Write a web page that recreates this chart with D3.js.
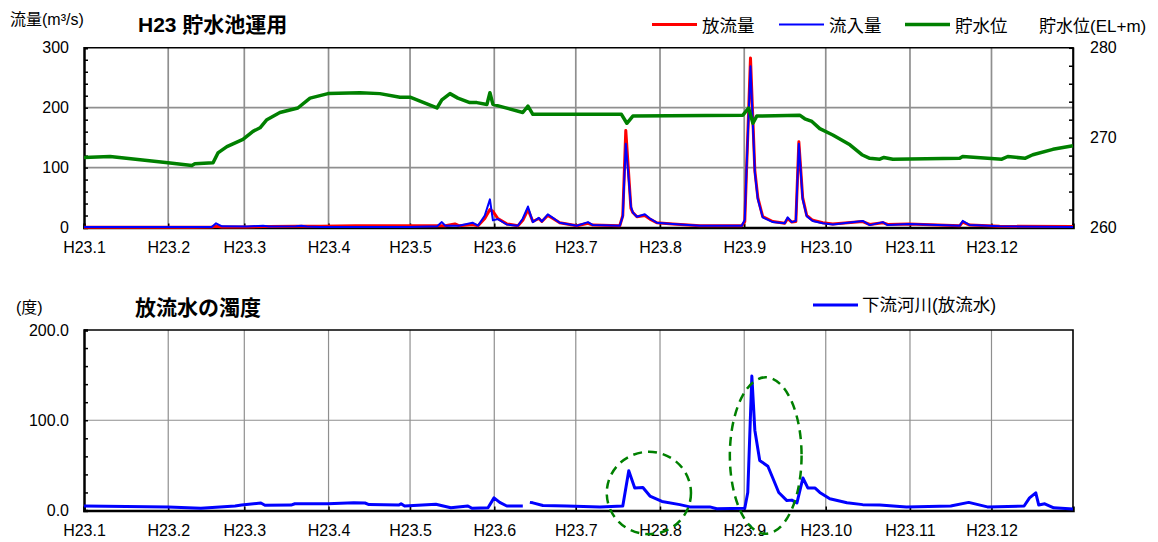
<!DOCTYPE html>
<html>
<head>
<meta charset="utf-8">
<script src="https://cdn.jsdelivr.net/npm/d3@7"></script>
<style>
  body { margin: 0; background: #fff; }
  text { font-family: "Liberation Sans", "Noto Sans CJK JP", sans-serif; fill: #000; }
</style>
</head>
<body>
<div id="chart"></div>
<script>
// month tick labels
const monthLabels = ["H23.1", "H23.2", "H23.3", "H23.4", "H23.5", "H23.6",
                     "H23.7", "H23.8", "H23.9", "H23.10", "H23.11", "H23.12"];

// flow (m3/s), day = days since 1 Jan 2011
const flowDays = [0, 20, 40, 47, 48.6, 50.8, 60, 65.9, 68, 78, 80, 82, 86.8, 100, 120, 130, 131.7, 133, 136.5, 138,
  143, 145, 147.5, 149.4, 150.5, 152.3, 155.6, 159.7, 161.5, 163.4, 165.2, 167.4, 168.5, 170.7, 172.6, 175.1,
  181.4, 185.5, 187.3, 197.2, 198.3, 199.4, 201.3, 202, 203.5, 206.4, 208.3, 210.8, 216.7, 226.7, 242.1, 243.2,
  243.8, 245.3, 246.9, 248, 249.8, 253.5, 257.9, 259, 260.5, 262, 263.1, 264.5, 266, 268.2, 271.9, 275.6,
  286.6, 289.2, 294, 295.8, 303.6, 322.3, 323.4, 326, 337, 364];
const outflow = [0.5, 0.5, 0.5, 1, 2, 1, 1, 1.5, 1.5, 2, 2, 2, 2, 3, 3, 3, 3, 3, 6, 3,
  5, 3, 15, 30, 27, 15, 6, 3, 12, 30, 10, 15, 10, 20, 15, 8,
  3, 7, 4, 3, 20, 162, 32, 25, 18, 20, 14, 8, 6, 3, 3, 10,
  90, 283, 95, 50, 18, 10, 7, 15, 9, 10, 143, 50, 20, 12, 8, 6,
  10, 5, 8, 5, 6, 3, 9, 4, 2, 1.5];
const inflow = [1, 1, 1, 1, 7, 2, 1.5, 3, 1.5, 2, 3, 1.5, 1, 1, 1, 2, 9, 3, 3, 3,
  8, 3, 20, 47, 12, 14, 5, 3, 15, 35, 9, 16, 10, 22, 16, 8,
  3, 9, 4, 3, 19, 140, 35, 25, 18, 22, 15, 8, 6, 3, 3, 13,
  92, 269, 92, 47, 17, 9, 7, 17, 9, 11, 140, 47, 19, 11, 7, 5,
  11, 4, 9, 4, 6, 3, 11, 4, 2, 1];

// reservoir level (EL+m)
const levelDays = [0, 9.6, 30.9, 39.7, 40.8, 47.5, 49.3, 52.6, 58.5, 62.2, 64.8, 67.3, 72.1, 78.7, 83.2, 89.8,
  101.6, 108.9, 116.3, 120, 129.9, 131.7, 134.7, 137.6, 142, 144.6, 148.3, 149.4, 150.5, 154.2, 161.5, 163.4,
  165.2, 197.8, 199.8, 202, 242.5, 244.6, 246.2, 247.6, 263.4, 265.3, 267.9, 270.8, 275.6, 281.9, 286.3, 289.2,
  292.9, 294.4, 297.7, 322.3, 323.4, 337.8, 340, 346.3, 349.2, 356.6, 364];
const levelValues = [267.8, 267.9, 267.2, 266.9, 267.1, 267.2, 268.3, 269.0, 269.8, 270.7, 271.1, 272.0, 272.8, 273.3, 274.4, 274.9,
  275.0, 274.9, 274.5, 274.5, 273.3, 274.2, 274.9, 274.4, 273.9, 273.9, 273.7, 275.0, 273.7, 273.4, 272.8, 273.5,
  272.6, 272.6, 271.6, 272.4, 272.5, 273.3, 271.6, 272.4, 272.5, 272.1, 271.8, 271.0, 270.3, 269.2, 268.1, 267.7,
  267.6, 267.8, 267.6, 267.7, 267.9, 267.6, 267.9, 267.7, 268.1, 268.7, 269.1];

// turbidity of released water (degree), null = missing
const turbDays = [0, 31, 43, 55.6, 58, 65.1, 66.6, 76.2, 77.6, 89.8, 99.3, 103.4, 104.9, 115.9, 116.7, 118,
  129.5, 135, 141.3, 142.8, 148.7, 150.9, 153, 155.6, 161.5, 162.5, 164.1, 165.2, 168.9, 177.7, 189.9, 198.3,
  200.5, 202.7, 205.7, 208.3, 212.7, 219.3, 223, 230.3, 232.9, 243.2, 244.3, 245.8, 246.9, 248.7, 251.7, 253.5,
  255.7, 258.7, 260.5, 262.4, 264.6, 266.4, 269, 270.8, 274.5, 280.8, 286.6, 292.9, 302.7, 319, 325.6, 332.5,
  346, 348, 350.3, 351.4, 353.6, 356.9, 364];
const turbValues = [5, 4, 2.5, 5, 6, 8.3, 5.8, 6, 7.5, 7.5, 8.7, 8.3, 6.6, 6, 7.5, 5,
  7, 3, 5, 2.5, 3, 14, 9, 5, 5, null, 9, 8.5, 5.5, 5, 4, 5,
  44, 25, 25.5, 16, 10, 6.5, 4, 4, 2, 2.5, 20, 149, 89, 55.5, 49, 36,
  20, 11, 11.5, 8.5, 36, 25, 25, 20, 13, 8.5, 6.5, 6, 4, 5, 9, 4,
  5, 14, 19.6, 6, 7.4, 3, 1.6];

// dashed ellipse marks (centre day / value, radius in days / degrees)
const marks = [
  { day: 207.9, value: 19.4, rDays: 15.5, rValue: 45.6 },
  { day: 250.9, value: 60.9, rDays: 13.2, rValue: 86.7 }
];

const width = 1158, height = 542;
const left = 84, right = 1073;
const start = new Date(2011, 0, 1);
const toDate = d => new Date(start.getTime() + d * 864e5);

const svg = d3.select("#chart").append("svg")
  .attr("width", width).attr("height", height);

const x = d3.scaleTime()
  .domain([start, new Date(2011, 11, 31)])
  .range([left, right]);
const months = d3.timeMonth.range(start, new Date(2011, 11, 31));

function frame(g, y, top, bottom, yTicks, yMinor, fmt, gridW) {
  // grid
  g.selectAll(".vg").data(months.slice(1)).enter().append("line")
    .attr("x1", d => x(d)).attr("x2", d => x(d))
    .attr("y1", top).attr("y2", bottom)
    .attr("stroke", "#8f8f8f").attr("stroke-width", gridW);
  g.selectAll(".hg").data(yTicks.slice(1, -1)).enter().append("line")
    .attr("x1", left).attr("x2", right)
    .attr("y1", d => y(d)).attr("y2", d => y(d))
    .attr("stroke", "#8f8f8f").attr("stroke-width", gridW);

  // border top/right
  g.append("path")
    .attr("d", `M${left},${top}H${right}V${bottom}`)
    .attr("fill", "none").attr("stroke", "#000").attr("stroke-width", 1.6);

  // left axis labels
  const ya = g.append("g").attr("transform", `translate(${left},0)`)
    .call(d3.axisLeft(y).tickValues(yTicks).tickSize(0).tickPadding(15).tickFormat(fmt));
  ya.select(".domain").remove();
  ya.selectAll("text").style("font-size", "16px");
  // left minor ticks (inward)
  const ym = g.append("g").attr("transform", `translate(${left},0)`)
    .call(d3.axisRight(y).tickValues(yMinor).tickSize(4).tickFormat(""));
  ym.select(".domain").attr("stroke-width", 2.5);
  ym.selectAll("line").attr("stroke-width", 1.5);

  // bottom axis
  const xa = g.append("g").attr("transform", `translate(0,${bottom})`)
    .call(d3.axisBottom(x).tickValues(months).tickSize(0).tickPadding(14)
      .tickFormat((d, i) => monthLabels[i]));
  xa.select(".domain").remove();
  xa.selectAll("text").style("font-size", "16px");
  const xm = g.append("g").attr("transform", `translate(0,${bottom})`)
    .call(d3.axisTop(x).tickValues(months).tickSize(4).tickFormat(""));
  xm.select(".domain").attr("stroke-width", 2.5);
  xm.selectAll("line").attr("stroke-width", 1.5);
}

// ---------- top chart ----------
const top1 = 47.8, bot1 = 227.5;
const yFlow = d3.scaleLinear().domain([0, 300]).range([bot1, top1]);
const yLevel = d3.scaleLinear().domain([260, 280]).range([bot1, top1]);
const g1 = svg.append("g");
frame(g1, yFlow, top1, bot1, [0, 100, 200, 300], d3.range(0, 301, 20), d3.format("d"), 1.7);

// right axis
const ra = g1.append("g").attr("transform", `translate(${right},0)`)
  .call(d3.axisRight(yLevel).tickValues([260, 270, 280]).tickSize(0).tickPadding(17));
ra.select(".domain").remove();
ra.selectAll("text").style("font-size", "16px");
const rm = g1.append("g").attr("transform", `translate(${right},0)`)
  .call(d3.axisLeft(yLevel).tickValues(d3.range(260, 281, 2)).tickSize(4).tickFormat(""));
rm.select(".domain").attr("stroke-width", 1.6);
rm.selectAll("line").attr("stroke-width", 1.5);

const flowLine = vals => d3.line()
  .x((d, i) => x(toDate(flowDays[i])))
  .y(d => yFlow(d))(vals);

g1.append("path").attr("d", flowLine(outflow))
  .attr("fill", "none").attr("stroke", "#ff0000").attr("stroke-width", 3).attr("stroke-linejoin", "round");
g1.append("path").attr("d", flowLine(inflow))
  .attr("fill", "none").attr("stroke", "#0000ff").attr("stroke-width", 2).attr("stroke-linejoin", "round");
g1.append("path")
  .attr("d", d3.line().x((d, i) => x(toDate(levelDays[i]))).y(d => yLevel(d))(levelValues))
  .attr("fill", "none").attr("stroke", "#008000").attr("stroke-width", 3.5).attr("stroke-linejoin", "round");

// titles
svg.append("text").attr("x", 10).attr("y", 25).style("font-size", "16px").text("流量(m³/s)");
svg.append("text").attr("x", 138).attr("y", 32).style("font-size", "21px").style("font-weight", "bold")
  .text("H23 貯水池運用");
svg.append("text").attr("x", 1039).attr("y", 32).style("font-size", "17px").text("貯水位(EL+m)");

// top legend
const legend1 = [
  { name: "放流量", color: "#ff0000", w: 3, x: 652 },
  { name: "流入量", color: "#0000ff", w: 2, x: 779 },
  { name: "貯水位", color: "#008000", w: 3.5, x: 905 }
];
const lg1 = svg.selectAll(".lg1").data(legend1).enter().append("g");
lg1.append("line").attr("x1", d => d.x).attr("x2", d => d.x + 45)
  .attr("y1", 24.5).attr("y2", 24.5)
  .attr("stroke", d => d.color).attr("stroke-width", d => d.w);
lg1.append("text").attr("x", d => d.x + 50).attr("y", 32)
  .style("font-size", "17.5px").text(d => d.name);

// ---------- bottom chart ----------
const top2 = 330, bot2 = 510.5;
const yTurb = d3.scaleLinear().domain([0, 200]).range([bot2, top2]);
const g2 = svg.append("g");
frame(g2, yTurb, top2, bot2, [0, 100, 200], d3.range(0, 201, 20), d3.format(".1f"), 1.2);

g2.append("path")
  .attr("d", d3.line()
    .defined(d => d !== null)
    .x((d, i) => x(toDate(turbDays[i])))
    .y(d => yTurb(d))(turbValues))
  .attr("fill", "none").attr("stroke", "#0000ff").attr("stroke-width", 3).attr("stroke-linejoin", "round");

g2.selectAll(".mark").data(marks).enter().append("ellipse")
  .attr("cx", d => x(toDate(d.day)))
  .attr("cy", d => yTurb(d.value))
  .attr("rx", d => x(toDate(d.day + d.rDays)) - x(toDate(d.day)))
  .attr("ry", d => yTurb(0) - yTurb(d.rValue))
  .attr("fill", "none").attr("stroke", "#008000").attr("stroke-width", 2.5)
  .attr("stroke-dasharray", "9,6");

svg.append("text").attr("x", 16).attr("y", 313).style("font-size", "16px").text("(度)");
svg.append("text").attr("x", 135).attr("y", 315).style("font-size", "21px").style("font-weight", "bold")
  .text("放流水の濁度");

svg.append("line").attr("x1", 813).attr("x2", 858).attr("y1", 305).attr("y2", 305)
  .attr("stroke", "#0000ff").attr("stroke-width", 3);
svg.append("text").attr("x", 862).attr("y", 311).style("font-size", "17.5px").text("下流河川(放流水)");
</script>
</body>
</html>
